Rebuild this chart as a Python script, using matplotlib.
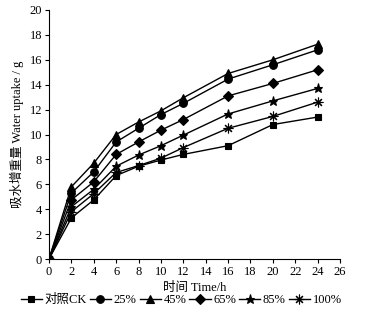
import matplotlib
matplotlib.use('Agg')
import matplotlib.pyplot as plt

plt.rcParams['font.family'] = ['Liberation Serif', 'Noto Sans CJK SC']
plt.rcParams['font.size'] = 9

# Data
time_h = [0, 2, 4, 6, 8, 10, 12, 16, 20, 24]
ck = [0, 3.3, 4.75, 6.7, 7.45, 7.95, 8.4, 9.1, 10.8, 11.4]
p25 = [0, 5.3, 7.0, 9.4, 10.5, 11.6, 12.5, 14.45, 15.6, 16.8]
p45 = [0, 5.8, 7.7, 10.0, 11.0, 11.9, 12.95, 14.9, 16.0, 17.25]
p65 = [0, 4.75, 6.2, 8.4, 9.4, 10.35, 11.2, 13.1, 14.1, 15.2]
p85 = [0, 4.2, 5.6, 7.45, 8.35, 9.1, 9.95, 11.65, 12.7, 13.7]
p100 = [0, 3.8, 5.25, 6.95, 7.5, 8.1, 8.95, 10.5, 11.45, 12.6]

labels = ['对照CK', '25%', '45%', '65%', '85%', '100%']
series = [ck, p25, p45, p65, p85, p100]
markers = ['s', 'o', '^', 'D', '*', (8, 2, 0)]
msizes = [5, 5.5, 5.5, 5, 6.5, 7]

fig = plt.figure(figsize=(3.75, 3.2), dpi=100)
ax = fig.add_axes([49 / 375, 1 - 259 / 320, 291 / 375, 249 / 320])

for y, lab, m, ms in zip(series, labels, markers, msizes):
    ax.plot(time_h, y, color='black', lw=1.0, marker=m, ms=ms,
            markeredgewidth=0.8, label=lab)

ax.set_xlim(0, 26)
ax.set_ylim(0, 20)
ax.set_xticks(range(0, 27, 2))
ax.set_yticks(range(0, 21, 2))
ax.spines['top'].set_visible(False)
ax.spines['right'].set_visible(False)
ax.tick_params(direction='out', length=3, width=0.8, pad=2)
ax.set_xlabel('时间 Time/h', labelpad=3)
ax.set_ylabel('吸水增重量 Water uptake / g', labelpad=4)

fig.legend(loc='center', bbox_to_anchor=(0.483, 1 - 300 / 320), ncol=6,
           frameon=False, handlelength=1.7, handletextpad=0.2,
           columnspacing=0.25, borderaxespad=0, fontsize=9)

fig.savefig('out.png', dpi=100)
